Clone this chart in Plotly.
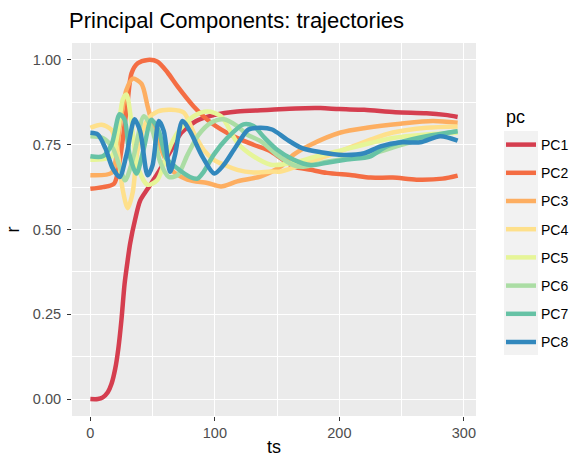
import plotly.graph_objects as go

# trajectories of the principal components
pc_names = ["PC1", "PC2", "PC3", "PC4", "PC5", "PC6", "PC7", "PC8"]
pc_colors = ["#D53E4F", "#F46D43", "#FDAE61", "#FEE08B",
             "#E6F598", "#ABDDA4", "#66C2A5", "#3288BD"]

ts_pc1 = [0, 6, 10, 14, 17, 20, 22.5, 25, 27.5, 30, 32, 36, 40, 46, 54, 65, 73, 85,
          100, 118, 145, 165, 185, 200, 220, 245, 270, 285, 295]
r_pc1 = [0.0, 0.0, 0.005, 0.02, 0.045, 0.09, 0.15, 0.235, 0.34, 0.41, 0.46, 0.53, 0.585,
         0.62, 0.665, 0.735, 0.785, 0.82, 0.838, 0.848, 0.853, 0.857, 0.858, 0.855, 0.853,
         0.846, 0.843, 0.838, 0.832]

ts_pc2 = [0, 10, 19, 23, 26, 30, 33, 38, 46, 54, 62, 70, 83, 97, 115, 131, 145, 163,
          177, 190, 210, 225, 243, 262, 283, 295]
r_pc2 = [0.62, 0.625, 0.635, 0.69, 0.765, 0.88, 0.96, 0.99, 1.0, 0.995, 0.963, 0.922,
         0.863, 0.815, 0.775, 0.75, 0.73, 0.686, 0.676, 0.667, 0.66, 0.653, 0.653, 0.647,
         0.65, 0.659]

ts_pc3 = [0, 17, 21, 24, 29, 34, 41, 46, 51, 57, 65, 78, 94, 105, 118, 137, 153, 163,
          177, 201, 222, 249, 275, 295]
r_pc3 = [0.66, 0.667, 0.72, 0.815, 0.912, 0.945, 0.93, 0.863, 0.794, 0.735, 0.676, 0.647,
         0.637, 0.627, 0.642, 0.657, 0.686, 0.72, 0.75, 0.786, 0.8, 0.812, 0.82, 0.815]

ts_pc4 = [0, 9, 17, 22, 26, 30, 34, 38, 46, 54, 65, 75, 83, 91, 99, 118, 131, 145, 153,
          177, 198, 225, 243, 270, 295]
r_pc4 = [0.8, 0.809, 0.794, 0.727, 0.617, 0.563, 0.609, 0.735, 0.824, 0.848, 0.853, 0.845,
         0.786, 0.735, 0.706, 0.676, 0.668, 0.671, 0.671, 0.701, 0.727, 0.765, 0.786, 0.8,
         0.804]

ts_pc5 = [0, 17, 22, 26, 29, 33, 38, 46, 54, 62, 70, 83, 94, 105, 118, 131, 145, 163,
          182, 203, 225, 243, 270, 295]
r_pc5 = [0.706, 0.716, 0.786, 0.883, 0.898, 0.815, 0.686, 0.632, 0.647, 0.727, 0.786,
         0.834, 0.848, 0.834, 0.756, 0.716, 0.691, 0.697, 0.716, 0.735, 0.755, 0.77, 0.78,
         0.785]

ts_pc6 = [0, 10, 18, 24, 28, 35, 43, 50, 56, 63, 70, 78, 87, 97, 107, 118, 126, 137, 150,
          163, 171, 190, 225, 250, 275, 295]
r_pc6 = [0.775, 0.77, 0.74, 0.68, 0.645, 0.72, 0.834, 0.79, 0.70, 0.655, 0.66, 0.72, 0.78,
         0.815, 0.825, 0.805, 0.78, 0.76, 0.72, 0.69, 0.685, 0.70, 0.722, 0.75, 0.775, 0.79]

ts_pc7 = [0, 10, 17, 23.5, 27.5, 31.5, 37, 43, 49, 55, 61, 70, 80, 86, 91, 99, 110, 123,
          131, 140, 150, 163, 177, 190, 206, 225, 238, 270, 295]
r_pc7 = [0.716, 0.716, 0.75, 0.84, 0.824, 0.72, 0.665, 0.74, 0.824, 0.79, 0.71, 0.68,
         0.655, 0.65, 0.67, 0.72, 0.77, 0.81, 0.805, 0.77, 0.735, 0.706, 0.69, 0.697,
         0.706, 0.716, 0.745, 0.775, 0.79]

ts_pc8 = [0, 6, 12, 18, 23.5, 29, 35.5, 40, 46, 50, 55, 59, 64, 68, 74, 80, 90, 99.5,
          107, 117, 127, 137, 146, 158, 170, 185, 203, 220, 233, 250, 265, 281, 295]
r_pc8 = [0.785, 0.78, 0.74, 0.68, 0.655, 0.72, 0.825, 0.79, 0.66, 0.69, 0.82, 0.79, 0.67,
         0.72, 0.82, 0.79, 0.715, 0.665, 0.69, 0.745, 0.795, 0.80, 0.795, 0.765, 0.74,
         0.728, 0.72, 0.725, 0.745, 0.757, 0.757, 0.775, 0.762]

ts_all = [ts_pc1, ts_pc2, ts_pc3, ts_pc4, ts_pc5, ts_pc6, ts_pc7, ts_pc8]
r_all = [r_pc1, r_pc2, r_pc3, r_pc4, r_pc5, r_pc6, r_pc7, r_pc8]

FONT = "Liberation Sans, Arial, sans-serif"
W, H = 574, 457
L, R, T, B = 72, 98, 43, 41
PW, PH = W - L - R, H - T - B


def px_x(px):
    return (px - L) / PW


def px_y(py):
    return (H - B - py) / PH


fig = go.Figure()
for name, color, ts, r in zip(pc_names, pc_colors, ts_all, r_all):
    fig.add_trace(go.Scatter(
        x=ts, y=r, name=name, mode="lines", legendgroup=name,
        line=dict(color=color, width=4.5, shape="spline", smoothing=0.8),
    ))

grid_minor = dict(showgrid=True, gridcolor="white", gridwidth=0.6)
fig.update_layout(
    width=W, height=H,
    margin=dict(l=L, r=R, t=T, b=B, autoexpand=False),
    paper_bgcolor="white", plot_bgcolor="#EBEBEB",
    font=dict(family=FONT, color="#4D4D4D", size=14),
    title=dict(text="Principal Components: trajectories", x=69 / W, xanchor="left",
               y=1 - 20 / H, yanchor="middle",
               font=dict(family=FONT, size=22, color="black")),
    legend=dict(
        x=px_x(501), xanchor="left", y=px_y(129), yanchor="top",
        font=dict(size=14, color="black"), tracegroupgap=7,
        bgcolor="rgba(0,0,0,0)",
    ),
    showlegend=True,
)
fig.add_annotation(text="pc", xref="paper", yref="paper", x=px_x(504), y=px_y(117),
                   xanchor="left", yanchor="middle", showarrow=False,
                   font=dict(family=FONT, size=18, color="black"))
fig.update_xaxes(
    range=[-14.75, 309.75], tickvals=[0, 100, 200, 300], ticks="outside", ticklen=4,
    tickcolor="#333333", gridcolor="white", gridwidth=1.1, zeroline=False,
    automargin=False,
    minor=dict(tickvals=[50, 150, 250], **grid_minor),
    title=dict(text="ts", font=dict(size=18, color="black"), standoff=9),
    tickfont=dict(size=14.5, color="#4D4D4D"),
)
fig.update_yaxes(
    range=[-0.05, 1.05], tickvals=[0, 0.25, 0.5, 0.75, 1.0], tickformat=".2f",
    ticks="outside", ticklen=4, tickcolor="#333333", gridcolor="white", gridwidth=1.1,
    zeroline=False, automargin=False, ticklabelstandoff=3,
    minor=dict(tickvals=[0.125, 0.375, 0.625, 0.875], **grid_minor),
    title=dict(text="r", font=dict(size=18, color="black"), standoff=8),
    tickfont=dict(size=14.5, color="#4D4D4D"),
)
# grey background behind the legend keys, like ggplot
fig.add_shape(type="rect", xref="paper", yref="paper",
              x0=px_x(504), x1=px_x(538), y0=px_y(355), y1=px_y(131),
              fillcolor="#F2F2F2", line_width=0, layer="below")

# the page body has a default 8px margin; drop it so the figure sits at the corner
fig.write_html("out.html", config={"displayModeBar": False},
               post_script="document.body.style.margin='0';")
